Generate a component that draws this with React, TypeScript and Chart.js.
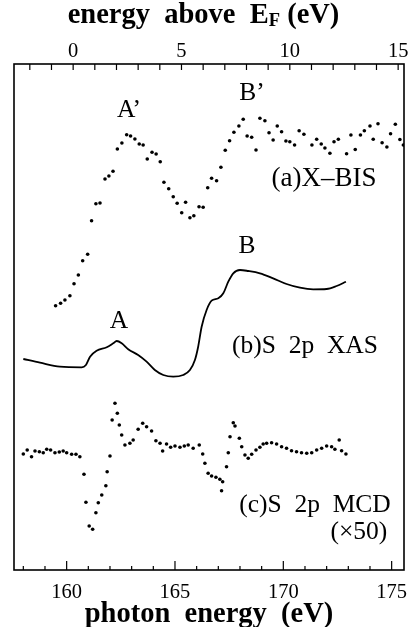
import React, { useEffect, useRef } from "react";
import { Chart, registerables } from "chart.js";

Chart.register(...registerables);

// ---- axes ----
const photonMin = 157.57;
const photonMax = 175.57;
const fermiOffset = 160.3; // photon energy at E_F (top axis zero)
const intensityMin = 0;
const intensityMax = 506;

// ---- (a) X-BIS (dots) ----
const xbisEnergy = [
  159.49, 159.72, 159.92, 160.15, 160.34, 160.54, 160.74, 160.97, 161.15, 161.35,
  161.54, 161.77, 161.95, 162.14, 162.34, 162.55, 162.77, 162.95, 163.15, 163.35,
  163.53, 163.72, 163.94, 164.13, 164.32, 164.49, 164.71, 164.92, 165.1, 165.31,
  165.49, 165.69, 165.87, 166.11, 166.3, 166.51, 166.69, 166.92, 167.12, 167.32,
  167.52, 167.72, 167.95, 168.15, 168.33, 168.54, 168.74, 168.92, 169.15, 169.34,
  169.53, 169.72, 169.92, 170.12, 170.3, 170.52, 170.73, 170.95, 171.32, 171.54,
  171.75, 171.92, 172.15, 172.34, 172.54, 172.92, 173.12, 173.32, 173.56, 173.74,
  174.0, 174.15, 174.37, 174.56, 174.78, 174.95, 175.17, 175.38, 175.54,
];
const xbisIntensity = [
  264.3, 266.7, 270, 274.3, 286.3, 295, 309.3, 315.7, 349.3, 366.3,
  367, 391, 394, 398.7, 421, 427, 435.3, 434, 431, 426,
  425, 411, 417.7, 416, 408.3, 387.7, 381.3, 373.3, 366.7, 357.3,
  367.7, 352.3, 354.3, 363.3, 362.7, 382.3, 391.7, 389.3, 402.7, 419.7,
  429.3, 437.7, 444, 450.7, 434, 432.7, 420, 451.7, 449.3, 437.3,
  430, 444, 438.3, 429, 428.3, 425, 439.3, 435.7, 425, 430.7,
  426, 422, 416.7, 428.3, 430.7, 416.3, 435, 420.5, 435, 439.2,
  444, 430.7, 446.3, 427.3, 423, 436.3, 445.7, 430.5, 425,
];

// ---- (b) S 2p XAS (solid line) ----
const xasEnergy = [
  158.0, 158.77, 159.69, 160.69, 160.89, 161.08, 161.38, 161.85, 162.15, 162.31,
  162.54, 162.84, 163.3, 163.69, 164.07, 164.46, 164.92, 165.38, 165.69, 165.92,
  166.07, 166.23, 166.46, 166.69, 167.0, 167.23, 167.46, 167.69, 168.0, 168.38,
  168.92, 169.53, 170.15, 170.77, 171.38, 172.0, 172.46, 172.89,
];
const xasIntensity = [
  211, 207.3, 203.3, 202.7, 205, 213.3, 219.3, 222.7, 226.7, 229,
  226.7, 220.7, 215, 208.3, 200, 195, 193.3, 195, 200, 210,
  223.3, 243.3, 260, 269.3, 271.7, 276.7, 288.3, 296.7, 300, 299,
  296.7, 291.7, 286, 282.3, 280.7, 281, 284, 288.3,
];

// ---- (c) S 2p MCD x50 (dots) ----
const mcdEnergy = [
  158.0, 158.18, 158.38, 158.54, 158.74, 158.92, 159.08, 159.26, 159.46, 159.66,
  159.84, 160.0, 160.23, 160.43, 160.61, 160.8, 160.89, 161.04, 161.2, 161.35,
  161.46, 161.62, 161.81, 161.87, 162.0, 162.1, 162.23, 162.34, 162.43, 162.54,
  162.69, 162.92, 163.07, 163.3, 163.51, 163.69, 163.92, 164.12, 164.31, 164.43,
  164.61, 164.8, 165.0, 165.23, 165.43, 165.61, 165.84, 166.12, 166.28, 166.38,
  166.53, 166.69, 166.89, 167.07, 167.15, 167.2, 167.38, 167.46, 167.54, 167.69,
  167.77, 167.97, 168.08, 168.23, 168.38, 168.54, 168.74, 168.92, 169.07, 169.23,
  169.46, 169.69, 169.92, 170.15, 170.38, 170.61, 170.84, 171.08, 171.31, 171.54,
  171.77, 172.0, 172.23, 172.38, 172.58, 172.69, 172.89,
];
const mcdIntensity = [
  116, 120, 113.3, 119, 118.3, 117.3, 120.7, 120, 117.3, 118,
  119, 117.3, 115.7, 115.7, 113.3, 95.7, 67.7, 44, 40.7, 57.3,
  67.3, 75, 84.3, 98.3, 114, 150, 166.7, 156.7, 145, 135,
  125, 126.7, 130, 140.7, 146.7, 143.3, 139, 129.3, 126.7, 119,
  126, 122.7, 124, 122.7, 124, 125, 121.7, 125, 116, 106.7,
  96.7, 94, 92.7, 90.7, 79.3, 88.3, 103.3, 117.3, 133.3, 147.3,
  144, 131.7, 123.3, 115, 111.7, 115.7, 120, 122.7, 126, 126.7,
  127.3, 126, 123.3, 121.7, 119.3, 118.3, 117.3, 116.7, 117.3, 120,
  121.7, 124, 123.3, 120.7, 130, 119.3, 116,
];

// ---- panel annotations ----
const labelTexts = ["A’", "B’", "(a)X–BIS", "B", "A", "(b)S  2p  XAS", "(c)S  2p  MCD", "(×50)"];
const labelEnergy = [162.88, 168.55, 171.88, 168.32, 162.41, 171.0, 171.46, 173.49];
const labelIntensity = [460, 477, 391, 324, 248.5, 224, 65, 38];

const FONT = '"Liberation Serif", "Times New Roman", serif';

const framePlugin = {
  id: "frameAndTicks",
  afterDatasetsDraw(chart: any) {
    const { ctx, chartArea: a, scales } = chart;
    ctx.save();
    ctx.strokeStyle = "#000";
    ctx.lineWidth = 1.6;
    ctx.strokeRect(a.left, a.top, a.right - a.left, a.bottom - a.top);
    ctx.lineWidth = 1.2;
    const xs = scales.x;
    for (let v = Math.ceil(xs.min); v <= xs.max; v++) {
      const px = xs.getPixelForValue(v);
      const len = v % 5 === 0 ? 9 : 4;
      ctx.beginPath();
      ctx.moveTo(px, a.bottom);
      ctx.lineTo(px, a.bottom - len);
      ctx.stroke();
    }
    const xt = scales.x2;
    for (let v = Math.ceil(xt.min); v <= xt.max; v++) {
      const px = xt.getPixelForValue(v);
      ctx.beginPath();
      ctx.moveTo(px, a.top);
      ctx.lineTo(px, a.top + 6);
      ctx.stroke();
    }
    ctx.fillStyle = "#000";
    ctx.textAlign = "center";
    ctx.textBaseline = "middle";
    const ys = scales.y;
    labelTexts.forEach((t, i) => {
      ctx.font = `${t.startsWith("(a)") ? 27 : 25.5}px ${FONT}`;
      ctx.fillText(t, xs.getPixelForValue(labelEnergy[i]), ys.getPixelForValue(labelIntensity[i]));
    });
    ctx.restore();
  },
};

export default function App() {
  const ref = useRef<HTMLCanvasElement | null>(null);
  useEffect(() => {
    if (!ref.current) return;
    const pts = (xs: number[], ys: number[]) => xs.map((x, i) => ({ x, y: ys[i] }));
    const chart = new Chart(ref.current, {
      type: "scatter",
      data: {
        datasets: [
          {
            label: "X-BIS",
            data: pts(xbisEnergy, xbisIntensity),
            showLine: false,
            pointRadius: 1.8,
            pointBackgroundColor: "#000",
            pointBorderWidth: 0,
          },
          {
            label: "XAS",
            data: pts(xasEnergy, xasIntensity),
            showLine: true,
            borderColor: "#000",
            borderWidth: 1.8,
            pointRadius: 0,
            cubicInterpolationMode: "monotone",
          },
          {
            label: "MCD",
            data: pts(mcdEnergy, mcdIntensity),
            showLine: false,
            pointRadius: 1.8,
            pointBackgroundColor: "#000",
            pointBorderWidth: 0,
          },
        ],
      },
      options: {
        animation: false,
        responsive: false,
        maintainAspectRatio: false,
        layout: { padding: { left: 14, right: 14, top: 0, bottom: 0 } },
        plugins: { legend: { display: false }, tooltip: { enabled: false } },
        scales: {
          x: {
            type: "linear",
            position: "bottom",
            min: photonMin,
            max: photonMax,
            grid: { display: false, drawTicks: false },
            border: { display: false },
            ticks: {
              stepSize: 5,
              includeBounds: false,
              maxRotation: 0,
              color: "#000",
              padding: 10,
              font: { family: FONT, size: 20.5 },
            },
            title: {
              display: true,
              text: "photon  energy  (eV)",
              color: "#000",
              padding: { top: 0, bottom: -5 },
              font: { family: FONT, size: 28.5, weight: "bold" },
            },
            afterFit: (s: any) => {
              s.height = 57;
            },
          },
          x2: {
            type: "linear",
            position: "top",
            min: photonMin - fermiOffset,
            max: photonMax - fermiOffset,
            grid: { display: false, drawTicks: false },
            border: { display: false },
            ticks: {
              stepSize: 5,
              includeBounds: false,
              maxRotation: 0,
              color: "#000",
              padding: 0,
              font: { family: FONT, size: 20.5 },
            },
            afterFit: (s: any) => {
              s.height = 64;
            },
          },
          y: { display: false, min: intensityMin, max: intensityMax },
        },
      },
      plugins: [framePlugin],
    } as any);
    return () => chart.destroy();
  }, []);

  return (
    <div style={{ position: "fixed", left: 0, top: 0, width: 418, height: 627, background: "#fff" }}>
      <canvas ref={ref} width={418} height={627} style={{ display: "block" }} />
      <div
        style={{
          position: "absolute",
          left: 0,
          top: 0,
          width: 407,
          textAlign: "center",
          fontFamily: FONT,
          fontWeight: "bold",
          fontSize: 28.5,
          lineHeight: "28px",
          whiteSpace: "pre",
          color: "#000",
        }}
      >
        energy  above  E<span style={{ fontSize: "0.65em", verticalAlign: "-0.15em" }}>F</span> (eV)
      </div>
    </div>
  );
}
